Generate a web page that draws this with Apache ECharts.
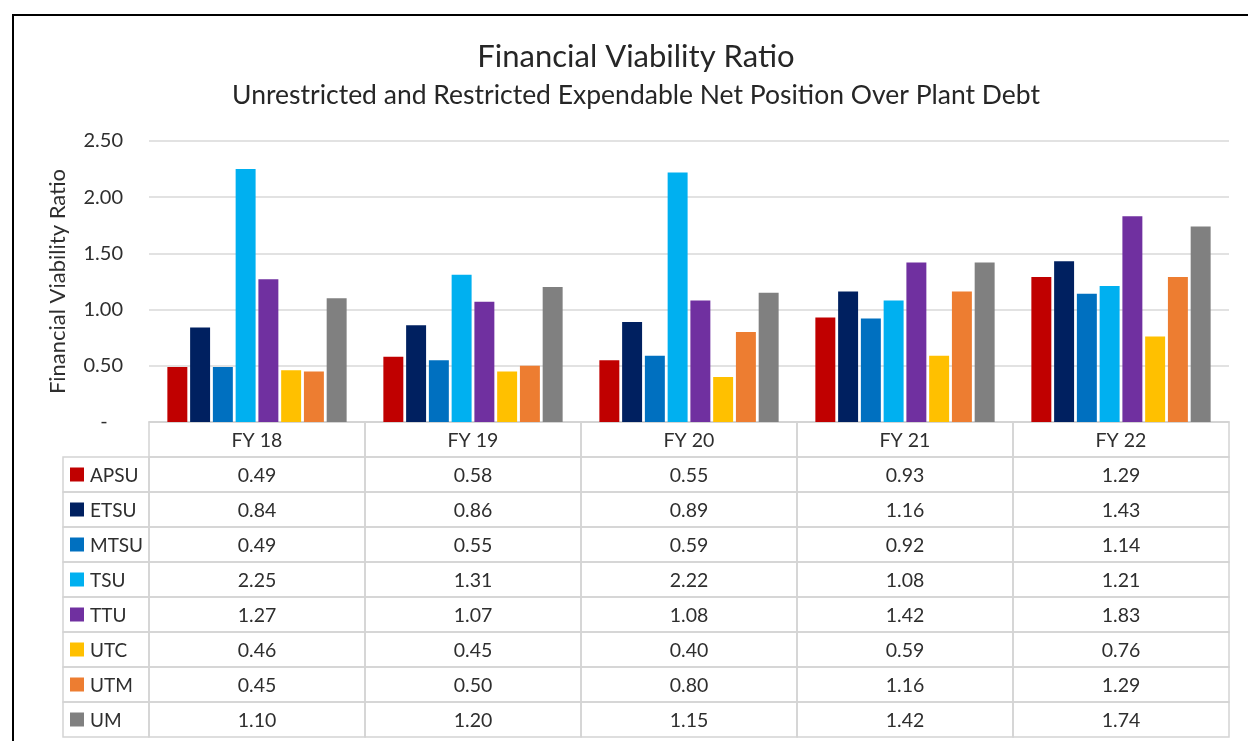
<!DOCTYPE html>
<html>
<head>
<meta charset="utf-8">
<title>Financial Viability Ratio</title>
<script src="https://cdn.jsdelivr.net/npm/echarts@6/dist/echarts.min.js"></script>
<style>
  html, body { margin: 0; padding: 0; background: #fff; }
  #chart { width: 1248px; height: 741px; }
</style>
</head>
<body>
<div id="chart"></div>
<script>
// data
var years = ['FY 18', 'FY 19', 'FY 20', 'FY 21', 'FY 22'];
var schools = ['APSU', 'ETSU', 'MTSU', 'TSU', 'TTU', 'UTC', 'UTM', 'UM'];
var colors = ['#C00000', '#002060', '#0070C0', '#00B0F0', '#7030A0', '#FFC000', '#ED7D31', '#808080'];
var apsu = [0.49, 0.58, 0.55, 0.93, 1.29];
var etsu = [0.84, 0.86, 0.89, 1.16, 1.43];
var mtsu = [0.49, 0.55, 0.59, 0.92, 1.14];
var tsu = [2.25, 1.31, 2.22, 1.08, 1.21];
var ttu = [1.27, 1.07, 1.08, 1.42, 1.83];
var utc = [0.46, 0.45, 0.40, 0.59, 0.76];
var utm = [0.45, 0.50, 0.80, 1.16, 1.29];
var um = [1.10, 1.20, 1.15, 1.42, 1.74];
var yTicks = ['-   ', '0.50', '1.00', '1.50', '2.00', '2.50'];

var values = [apsu, etsu, mtsu, tsu, ttu, utc, utm, um];
var FONT = 'Lato';
var TEXT = '#2e2e2e';
var LINE = '#d4d4d4';
var LEGEND_W = 86; // width of the label column left of the table

var chart = echarts.init(document.getElementById('chart'));

// bar series, one per school
var barSeries = schools.map(function (name, i) {
  return {
    name: name,
    type: 'bar',
    xAxisIndex: 0,
    yAxisIndex: 0,
    data: values[i],
    itemStyle: { color: colors[i] },
    barGap: '14%',
    barCategoryGap: '17%'
  };
});

// table cells: row 0 is the header, rows 1..8 are schools
var cells = [];
var cellText = [];
for (var r = 0; r <= schools.length; r++) {
  for (var c = 0; c < years.length; c++) {
    cells.push([c, r]);
    cellText.push(r === 0 ? years[c] : values[r - 1][c].toFixed(2));
  }
}

function renderCell(params, api) {
  var c = api.value(0), r = api.value(1);
  var p = api.coord([c, r]);
  var s = api.size([1, 1]);
  var x0 = p[0] - s[0] / 2, y0 = p[1] - s[1] / 2;
  var children = [
    {
      type: 'rect',
      shape: { x: x0, y: y0, width: s[0], height: s[1] },
      style: { fill: 'none', stroke: LINE, lineWidth: 1.5 }
    },
    {
      type: 'text',
      style: {
        x: p[0], y: p[1] + 1, text: cellText[params.dataIndex],
        align: 'center', verticalAlign: 'middle',
        fontFamily: FONT, fontSize: 19.5, fill: TEXT
      }
    }
  ];
  if (c === 0 && r > 0) {
    children.push({
      type: 'rect',
      shape: { x: x0 - LEGEND_W, y: y0, width: LEGEND_W, height: s[1] },
      style: { fill: 'none', stroke: LINE, lineWidth: 1.5 }
    }, {
      type: 'rect',
      shape: { x: x0 - LEGEND_W + 7, y: p[1] - 7, width: 14, height: 14 },
      style: { fill: colors[r - 1] }
    }, {
      type: 'text',
      style: {
        x: x0 - LEGEND_W + 27, y: p[1] + 1, text: schools[r - 1],
        align: 'left', verticalAlign: 'middle',
        fontFamily: FONT, fontSize: 19, fill: TEXT
      }
    });
  }
  return { type: 'group', children: children };
}

chart.setOption({
  animation: false,
  backgroundColor: '#fff',
  textStyle: { fontFamily: FONT },
  graphic: [
    { // chart frame
      type: 'rect',
      shape: { x: 13, y: 15, width: 1400, height: 900 },
      style: { fill: 'none', stroke: '#000', lineWidth: 2 },
      z: 100
    },
    {
      type: 'text',
      x: 636, y: 57,
      style: {
        text: 'Financial Viability Ratio',
        align: 'center', verticalAlign: 'middle',
        fontFamily: FONT, fontSize: 31, fill: '#262626'
      }
    },
    {
      type: 'text',
      x: 636, y: 95,
      style: {
        text: 'Unrestricted and Restricted Expendable Net Position Over Plant Debt',
        align: 'center', verticalAlign: 'middle',
        fontFamily: FONT, fontSize: 26.5, fill: '#262626'
      }
    }
  ],
  grid: [
    { left: 149, right: 19, top: 141, bottom: 319 },
    { left: 149, right: 19, top: 422, bottom: 4 }
  ],
  xAxis: [
    {
      type: 'category',
      gridIndex: 0,
      data: years,
      axisLine: { show: true, lineStyle: { color: LINE, width: 1.5 } },
      axisTick: { show: false },
      axisLabel: { show: false }
    },
    {
      type: 'category',
      gridIndex: 1,
      data: years,
      show: false
    }
  ],
  yAxis: [
    {
      type: 'value',
      gridIndex: 0,
      min: 0,
      max: 2.5,
      interval: 0.5,
      name: 'Financial Viability Ratio',
      nameLocation: 'middle',
      nameGap: 80,
      nameTextStyle: { fontFamily: FONT, fontSize: 22, color: TEXT },
      axisLine: { show: false },
      axisTick: { show: false },
      axisLabel: {
        margin: 26,
        fontFamily: FONT,
        fontSize: 20,
        color: TEXT,
        formatter: function (v, idx) { return yTicks[idx]; }
      },
      splitLine: { lineStyle: { color: '#d9d9d9', width: 1.5 } }
    },
    {
      type: 'category',
      gridIndex: 1,
      data: ['header'].concat(schools),
      inverse: true,
      show: false
    }
  ],
  series: barSeries.concat([{
    type: 'custom',
    xAxisIndex: 1,
    yAxisIndex: 1,
    encode: { x: 0, y: 1 },
    data: cells,
    renderItem: renderCell,
    silent: true
  }])
});
</script>
</body>
</html>
